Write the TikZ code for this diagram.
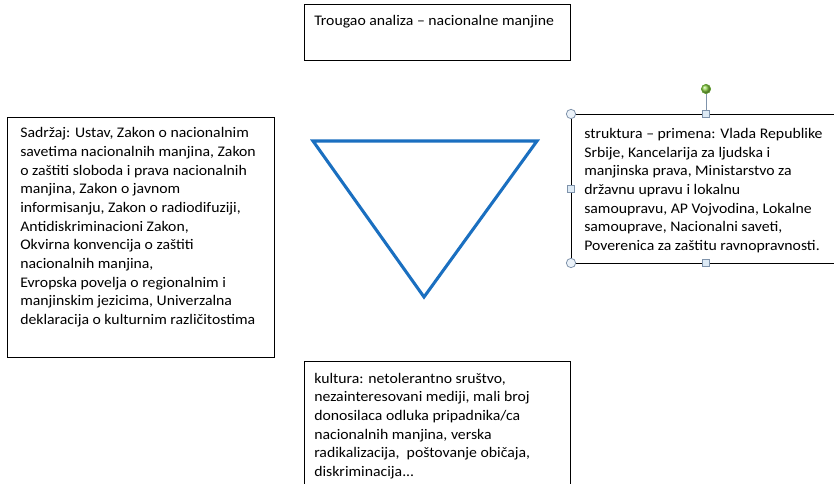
\documentclass[tikz,border=0pt]{standalone}
\usepackage{fontspec}
\setmainfont{Carlito}[FakeStretch=1.075]
\definecolor{triblue}{HTML}{1A6FC0}
\definecolor{handleedge}{HTML}{7F93AB}
\definecolor{handlefill}{HTML}{DDEAF5}
\definecolor{rotfill}{HTML}{8CD246}
\definecolor{rotedge}{HTML}{5E9A2E}
\tikzset{
  txtbox/.style={draw=black, line width=0.9pt, rectangle, inner sep=0pt, anchor=north west},
  boxtext/.style={anchor=base west, inner sep=0pt, align=left, font=\fontsize{11}{14}\selectfont},
  sqhandle/.style={draw=handleedge, fill=handlefill, line width=0.6pt, rectangle, minimum size=5.2pt, inner sep=0pt},
  cirhandle/.style={draw=handleedge, fill=handlefill!60!white, line width=0.6pt, circle, minimum size=7pt, inner sep=0pt},
  rothandle/.style={draw=rotedge, ball color=rotfill, line width=0.5pt, circle, minimum size=7pt, inner sep=0pt},
}
\begin{document}
\begin{tikzpicture}[x=0.75pt,y=-0.75pt]
\useasboundingbox (0,0) rectangle (834,484);
\clip (0,0) rectangle (834,484);
% boxes
\node[txtbox, minimum width=266*0.75pt, minimum height=56*0.75pt] (topbox) at (304,4) {};
\node[txtbox, minimum width=267*0.75pt, minimum height=240*0.75pt] (leftbox) at (7,117) {};
\node[txtbox, minimum width=280*0.75pt, minimum height=149*0.75pt] (rightbox) at (571,114) {};
\node[txtbox, minimum width=266*0.75pt, minimum height=140*0.75pt] (botbox) at (304,361) {};
% texts (anchored on the baseline of their last line)
\node[boxtext] (toptext) at (314,26) {Trougao analiza -- nacionalne manjine};
\node[boxtext] (lefttext) at (20,324.5) {Sadržaj: Ustav, Zakon o nacionalnim\\
savetima nacionalnih manjina, Zakon\\
o zaštiti sloboda i prava nacionalnih\\
manjina, Zakon o javnom\\
informisanju, Zakon o radiodifuziji,\\
Antidiskriminacioni Zakon,\\
Okvirna konvencija o zaštiti\\
nacionalnih manjina,\\
Evropska povelja o regionalnim i\\
manjinskim jezicima, Univerzalna\\
deklaracija o kulturnim različitostima};
\node[boxtext] (righttext) at (584,250.5) {struktura -- primena: Vlada Republike\\
Srbije, Kancelarija za ljudska i\\
manjinska prava, Ministarstvo za\\
državnu upravu i lokalnu\\
samoupravu, AP Vojvodina, Lokalne\\
samouprave, Nacionalni saveti,\\
Poverenica za zaštitu ravnopravnosti.};
\node[boxtext] (bottext) at (314,476.5) {kultura: netolerantno sruštvo,\\
nezainteresovani mediji, mali broj\\
donosilaca odluka pripadnika/ca\\
nacionalnih manjina, verska\\
radikalizacija,\ \ poštovanje običaja,\\
diskriminacija...};
% triangle
\coordinate (tA) at (313,141);
\coordinate (tB) at (537,141);
\coordinate (tC) at (424,297);
\draw[triblue, line width=2.3pt, line join=miter] (tA) -- (tB) -- (tC) -- cycle;
% selection handles on the right box
\node[rothandle] (rot) at (706,89) {};
\node[sqhandle] (hTop) at (706,114) {};
\draw[handleedge, line width=0.7pt] (rot) -- (hTop);
\node[sqhandle] (hBot) at (706,263) {};
\node[sqhandle] (hLeft) at (571,188.5) {};
\node[cirhandle] (hTL) at (571,114) {};
\node[cirhandle] (hBL) at (571,263) {};
\end{tikzpicture}
\end{document}
